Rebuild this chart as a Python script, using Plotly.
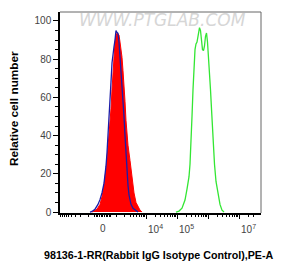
import numpy as np
import plotly.graph_objects as go

# Biexponential (arcsinh) display scale used by the flow cytometry axis
C = 400.0
def biex(v):
    return np.arcsinh(np.asarray(v, dtype=float) / (2 * C)) / np.log(10)

# ---- data (fluorescence intensity, relative cell number) ----
red_x = [-705, -554, -349, -162, -42, 77, 198, 323, 455, 525, 598, 674, 753, 837, 925, 1019,
         1118, 1223, 1335, 1455, 1582, 1718, 1864, 2020, 2186, 2366, 2558, 2986, 3480, 4051,
         4712, 5476, 6362, 7389]
red_y = [0, 0.5, 1.5, 4, 8, 14, 22, 34, 46, 54, 64, 75, 84, 89, 92, 93.7,
         93.2, 92.7, 89, 86, 81, 74, 67.5, 58, 48, 41, 35, 27, 18, 10,
         5, 2.5, 1, 0]

blue_x = [-872, -705, -483, -285, -162, -42, 77, 137, 198, 260, 323, 388, 455, 525, 598, 674,
          753, 837, 925, 1019, 1118, 1223, 1335, 1455, 1582, 1718, 1864, 2020, 2186, 2366,
          2558, 2765, 2986, 3224, 3755, 4370, 5476]
blue_y = [0, 0.3, 1.5, 4, 6.5, 10, 15, 18.5, 24, 31, 39, 47, 56, 68, 78, 84,
          86.5, 90, 95, 94, 93.5, 89, 82, 76, 68, 60, 50, 40, 30, 20,
          14, 9, 6, 4, 2, 1, 0]

green_x = [92600, 115700, 144600, 180600, 209600, 243200, 261900, 282100, 303800, 327300,
           352500, 379700, 408900, 440400, 474400, 530300, 571200, 615200, 662600, 713700,
           768800, 828000, 891900, 960600, 1034700, 1114400, 1200400, 1292800, 1392500,
           1499900, 1615600, 1805900, 2174800, 2431100, 2820700, 3272400]
green_y = [0, 0.5, 2, 6.3, 12, 18.5, 25, 35, 50, 64,
           78, 85, 88, 89, 92, 96.5, 95, 89, 85, 84.5,
           87, 92, 93.7, 89, 82, 74, 64, 54, 44,
           33, 25, 16, 8, 4, 1, 0]

y_ticks = [0, 20, 40, 60, 80, 100]
x_major = [1e4, 1e5, 1e6, 1e7]
x_labels = [(0, "0"), (1e4, "10<sup>4</sup>"), (1e5, "10<sup>5</sup>"), (1e7, "10<sup>7</sup>")]
x_minor = ([-k * 1000 for k in range(1, 10)] + [k * 100 for k in range(-5, 6)] +
           [k * 1000 for k in range(1, 10)] + [k * 1e4 for k in range(2, 10)] +
           [k * 1e5 for k in range(2, 10)] + [k * 1e6 for k in range(2, 10)] +
           [k * 1e7 for k in range(2, 4)])

fig = go.Figure()
fig.add_trace(go.Scatter(x=biex(red_x), y=red_y, mode="lines", fill="tozeroy",
                         fillcolor="#ff0000", line=dict(color="#ff0000", width=1),
                         hoverinfo="skip"))
fig.add_trace(go.Scatter(x=biex(blue_x), y=blue_y, mode="lines",
                         line=dict(color="#1c1ca8", width=1.3), hoverinfo="skip"))
fig.add_trace(go.Scatter(x=biex(green_x), y=green_y, mode="lines",
                         line=dict(color="#33e633", width=1.3), hoverinfo="skip"))

FONT = "Liberation Sans, Arial, sans-serif"

# the page body adds an 8px offset, so the figure is 8px smaller on each side
fig.update_layout(
    width=275, height=256,
    margin=dict(l=52, r=22, t=4, b=51),
    paper_bgcolor="white", plot_bgcolor="white",
    showlegend=False,
    font=dict(family=FONT, size=10, color="#444"),
    xaxis=dict(range=[-1.377, 5.106], showgrid=False, zeroline=False,
               showline=True, linecolor="black", linewidth=1.5,
               tickmode="array", tickvals=list(biex(x_major)), showticklabels=False,
               ticks="outside", ticklen=4, tickwidth=1.2, tickcolor="black",
               minor=dict(tickmode="array", tickvals=list(biex(x_minor)),
                          ticks="outside", ticklen=2.5, tickwidth=1, tickcolor="black",
                          showgrid=False)),
    yaxis=dict(range=[-0.5, 104.7], showgrid=False, zeroline=False,
               showline=True, linecolor="black", linewidth=1.5,
               tickmode="array", tickvals=y_ticks,
               ticks="outside", ticklen=5, tickwidth=1.2, tickcolor="black",
               tickfont=dict(size=10, color="#444"),
               minor=dict(dtick=5, ticks="outside", ticklen=3, tickwidth=1,
                          tickcolor="black", showgrid=False)),
)

# top / right frame
fig.add_shape(type="line", xref="paper", yref="paper", x0=0, x1=1, y0=1, y1=1,
              line=dict(color="#666", width=1))
fig.add_shape(type="line", xref="paper", yref="paper", x0=1, x1=1, y0=0, y1=1,
              line=dict(color="#666", width=1))

for v, lab in x_labels:
    fig.add_annotation(x=float(biex(v)), xref="x", y=-0.04, yref="paper",
                       text=lab, showarrow=False,
                       xanchor="center" if v == 0 else "left", yanchor="top",
                       font=dict(family=FONT, size=10, color="#444"))

fig.add_annotation(x=0.49, y=-0.209, xref="paper", yref="paper",
                   text="<b>98136-1-RR(Rabbit IgG Isotype Control),PE-A</b>",
                   showarrow=False, xanchor="center", yanchor="middle",
                   font=dict(family=FONT, size=10.7, color="black"))
fig.add_annotation(x=-0.229, y=0.522, xref="paper", yref="paper",
                   text="<b>Relative cell number</b>", textangle=-90,
                   showarrow=False, xanchor="center", yanchor="middle",
                   font=dict(family=FONT, size=11.8, color="black"))
fig.add_annotation(x=0.512, y=0.958, xref="paper", yref="paper",
                   text="<i>WWW.PTGLAB.COM</i>", showarrow=False,
                   xanchor="center", yanchor="middle",
                   font=dict(family="DejaVu Sans, sans-serif", size=17, color="#d6d6d6"))

fig.write_html("out.html")
